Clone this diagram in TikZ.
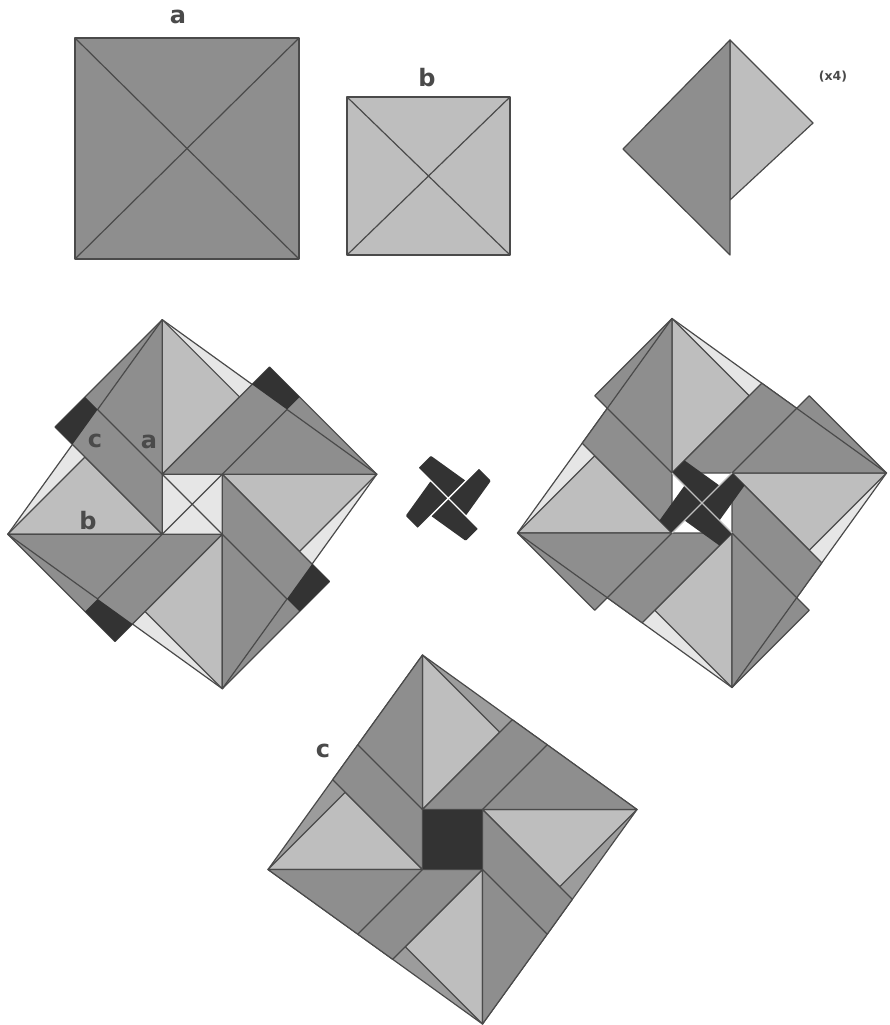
\documentclass[tikz,border=0pt]{standalone}
\usepackage{fontspec}
\setsansfont{DejaVu Sans}
\definecolor{PinDark}{HTML}{8E8E8E}
\definecolor{PinMid}{HTML}{9C9C9C}
\definecolor{PinLight}{HTML}{BEBEBE}
\definecolor{PinPale}{HTML}{E6E6E6}
\definecolor{PinBlack}{HTML}{333333}
\definecolor{PinEdge}{HTML}{4A4A4A}
% corners of one blade, the other three come from rotating it
\newcommand{\BladePoints}{%
  \coordinate (top) at (-30,-184.5);
  \coordinate (apex) at (-137.25,-77.25);
  \coordinate (near) at (-30,-30);
  \coordinate (low) at (-30,30);
  \coordinate (lit) at (47.25,-107.25);
  \coordinate (cutA) at (-107.25,-107.25);
  \coordinate (cutB) at (-94.7,-94.7);
  \coordinate (cutC) at (-119.8,-59.8);
}
\newcommand{\OuterSquare}[1]{\draw[#1] (-30,-184.5) -- (184.5,-30) -- (30,184.5) -- (-184.5,30) -- cycle;}
\newcommand{\CrossBlade}{(0,0) -- (-30,-30) -- (-17.45,-42.55) -- (17.45,-17.45) -- cycle}
\begin{document}
\begin{tikzpicture}[
    x=1pt, y=-1pt,
    thin edge/.style={draw=PinEdge, line width=1.2pt, line join=round},
    darkface/.style={thin edge, fill=PinDark},
    lightface/.style={thin edge, fill=PinLight},
    paleface/.style={thin edge, fill=PinPale},
    midface/.style={thin edge, fill=PinMid},
    blackface/.style={fill=PinBlack},
    tag/.style={font=\sffamily\bfseries\fontsize{24}{24}\selectfont, text=PinEdge, inner sep=0pt}
  ]
    \useasboundingbox (0,0) rectangle (889,1025);

    % top row
    \draw[darkface] (75,38) rectangle (299,259);
    \draw[thin edge] (75,38) -- (299,259) (299,38) -- (75,259);
    \draw[lightface] (347,97) rectangle (510,255);
    \draw[thin edge] (347,97) -- (510,255) (510,97) -- (347,255);
    \draw[lightface] (730,40) -- (813,123) -- (730,200) -- cycle;
    \draw[darkface] (730,40) -- (623,149) -- (730,255) -- cycle;
    \node[tag] (labelA) at (178,17) {a};
    \node[tag] (labelB) at (427,78) {b};
    \node[tag, font=\sffamily\bfseries\fontsize{12.5}{12.5}\selectfont] (labelTimes) at (833,77) {(x4)};

    % left pinwheel, black corners still outside
    \begin{scope}[shift={(192.3,504.2)}]
      \OuterSquare{paleface}
      \draw[paleface] (-30,-30) rectangle (30,30);
      \draw[thin edge] (-30,-30) -- (30,30) (30,-30) -- (-30,30);
      \foreach \ang in {0,90,180,270} {
        \begin{scope}[rotate=\ang]
          \BladePoints
          \draw[lightface] (top) -- (lit) -- (near) -- cycle;
        \end{scope}
      }
      \foreach \ang in {0,90,180,270} {
        \begin{scope}[rotate=\ang]
          \BladePoints
          \draw[darkface] (top) -- (apex) -- (low) -- cycle;
          \draw[thin edge] (top) -- (cutB) -- (near);
          \fill[blackface] (cutA) -- (cutB) -- (cutC) -- (apex) -- cycle;
        \end{scope}
      }
    \end{scope}
    \node[tag] (labelC) at (95,441) {c};
    \node[tag] (labelAin) at (149,442) {a};
    \node[tag] (labelBin) at (88,521) {b};

    % the four black pieces alone
    \begin{scope}[shift={(448.3,498.3)}]
      \foreach \ang in {0,90,180,270} {
        \fill[blackface, rounded corners=1pt, rotate=\ang] \CrossBlade;
      }
      \draw[white, line width=1.3pt] (-34,-34) -- (34,34) (34,-34) -- (-34,34);
    \end{scope}

    % right pinwheel, pieces moved to the middle
    \begin{scope}[shift={(702,503)}]
      \OuterSquare{paleface}
      \fill[white] (-30,-30) rectangle (30,30);
      \foreach \ang in {0,90,180,270} {
        \begin{scope}[rotate=\ang]
          \BladePoints
          \draw[lightface] (top) -- (lit) -- (near) -- cycle;
        \end{scope}
      }
      \foreach \ang in {0,90,180,270} {
        \begin{scope}[rotate=\ang]
          \BladePoints
          \draw[darkface] (top) -- (cutA) -- (cutB) -- (cutC) -- (low) -- cycle;
          \draw[thin edge] (top) -- (cutB) -- (near);
        \end{scope}
      }
      \foreach \ang in {0,90,180,270} {
        \fill[blackface, rotate=\ang] \CrossBlade;
      }
      \draw[PinLight, line width=1.2pt] (-30,-30) -- (30,30) (30,-30) -- (-30,30);
    \end{scope}

    % bottom pinwheel, closed square
    \begin{scope}[shift={(452.5,839.5)}]
      \OuterSquare{midface}
      \foreach \ang in {0,90,180,270} {
        \begin{scope}[rotate=\ang]
          \BladePoints
          \draw[lightface] (top) -- (lit) -- (near) -- cycle;
        \end{scope}
      }
      \foreach \ang in {0,90,180,270} {
        \begin{scope}[rotate=\ang]
          \BladePoints
          \draw[darkface] (top) -- (cutB) -- (cutC) -- (low) -- cycle;
          \draw[thin edge] (cutB) -- (near);
        \end{scope}
      }
      \draw[thin edge, fill=PinBlack] (-30,-30) rectangle (30,30);
    \end{scope}
    \node[tag] (labelCout) at (323,751) {c};
  \end{tikzpicture}
\end{document}
